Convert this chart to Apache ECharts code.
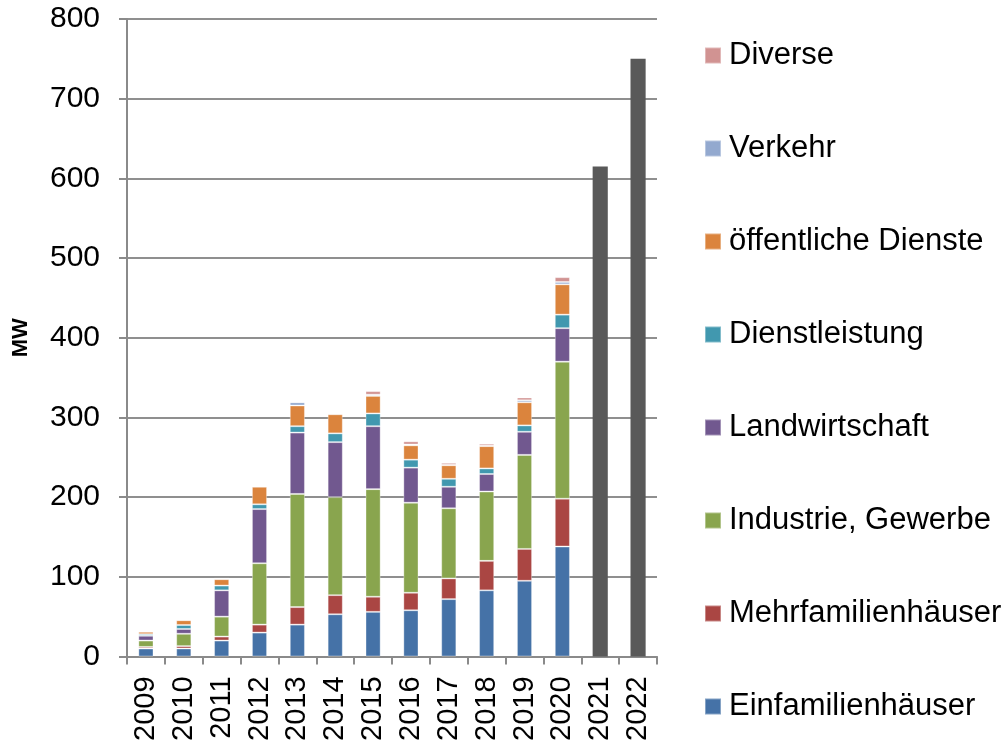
<!DOCTYPE html>
<html>
<head>
<meta charset="utf-8">
<script src="https://cdn.jsdelivr.net/npm/echarts@6/dist/echarts.min.js"></script>
<style>
  html, body { margin: 0; padding: 0; background: #fff; }
  #chart { width: 1004px; height: 744px; }
</style>
</head>
<body>
<div id="chart"></div>
<script>
  // Jahre
  var years = ['2009', '2010', '2011', '2012', '2013', '2014', '2015', '2016', '2017', '2018', '2019', '2020', '2021', '2022'];

  // Zubau je Sektor (MW), 2009..2020
  var einfamilien   = [10, 10, 20, 30, 40, 53, 56, 58, 72, 83, 95, 138];
  var mehrfamilien  = [2, 3, 5, 10, 22, 24, 19, 22, 26, 37, 40, 60];
  var industrie     = [8, 15.5, 25, 77, 142, 123, 135, 113, 88, 87, 118, 172];
  var landwirt      = [6, 6, 33, 68, 77, 69, 79, 44, 27, 22, 29, 42];
  var dienstleist   = [2, 5, 6, 6, 8, 11, 16, 10, 10, 7, 8, 17];
  var oeffentlich   = [3, 6, 8, 22, 26, 24, 22, 18, 17, 28, 29, 38];
  var verkehr       = [0.5, 0.5, 0.5, 1, 4, 1, 1.5, 1, 0.5, 0.5, 2.5, 3];
  var diverse       = [0.5, 1, 1, 0, 0, 0, 4.5, 4, 2.5, 2.5, 3.5, 6];

  // Gesamtwerte 2021 / 2022
  var total2122 = [null, null, null, null, null, null, null, null, null, null, null, null, 615, 750];

  var sectors = [
    { name: 'Einfamilienhäuser', data: einfamilien, color: '#4572A7' },
    { name: 'Mehrfamilienhäuser', data: mehrfamilien, color: '#AA4643' },
    { name: 'Industrie, Gewerbe', data: industrie, color: '#89A54E' },
    { name: 'Landwirtschaft', data: landwirt, color: '#71588F' },
    { name: 'Dienstleistung', data: dienstleist, color: '#4198AF' },
    { name: 'öffentliche Dienste', data: oeffentlich, color: '#DB843D' },
    { name: 'Verkehr', data: verkehr, color: '#93A9CF' },
    { name: 'Diverse', data: diverse, color: '#D19392' }
  ];

  var chart = echarts.init(document.getElementById('chart'));

  var series = sectors.map(function (s) {
    return {
      name: s.name,
      type: 'bar',
      stack: 'total',
      barWidth: '40%',
      data: s.data,
      itemStyle: {
        color: s.color,
        borderColor: 'rgba(255,255,255,0.35)',
        borderWidth: 1
      }
    };
  });
  series.push({
    name: 'Gesamt',
    type: 'bar',
    stack: 'total',
    barWidth: '40%',
    data: total2122,
    itemStyle: { color: '#595959' }
  });

  var legendNames = sectors.map(function (s) { return s.name; }).reverse();

  chart.setOption({
    animation: false,
    backgroundColor: '#FFFFFF',
    textStyle: { fontFamily: 'Liberation Sans, Arial, sans-serif' },
    grid: {
      left: 127,
      right: 347,
      top: 19,
      bottom: 85,
      containLabel: false
    },
    legend: {
      orient: 'vertical',
      left: 699,
      top: 35,
      icon: 'rect',
      itemWidth: 16,
      itemHeight: 16,
      itemGap: 62,
      data: legendNames,
      textStyle: {
        fontSize: 31,
        lineHeight: 30,
        color: '#000',
        padding: [0, 0, 0, 3]
      }
    },
    xAxis: {
      type: 'category',
      data: years,
      axisLine: { lineStyle: { color: '#8a8a8a', width: 2 } },
      axisTick: { show: true, length: 8, lineStyle: { color: '#8a8a8a', width: 2 } },
      axisLabel: {
        rotate: 90,
        fontSize: 29,
        color: '#000',
        margin: 20,
        interval: 0
      }
    },
    yAxis: {
      type: 'value',
      min: 0,
      max: 800,
      interval: 100,
      name: 'MW',
      nameLocation: 'middle',
      nameRotate: 90,
      nameGap: 95,
      nameTextStyle: { fontSize: 22, fontWeight: 'bold', color: '#000' },
      axisLine: { show: true, lineStyle: { color: '#8a8a8a', width: 2 } },
      axisTick: { show: true, length: 8, lineStyle: { color: '#8a8a8a', width: 2 } },
      axisLabel: { fontSize: 30, color: '#000', margin: 27 },
      splitLine: { lineStyle: { color: '#8f8f8f', width: 2 } }
    },
    series: series
  });
</script>
</body>
</html>
